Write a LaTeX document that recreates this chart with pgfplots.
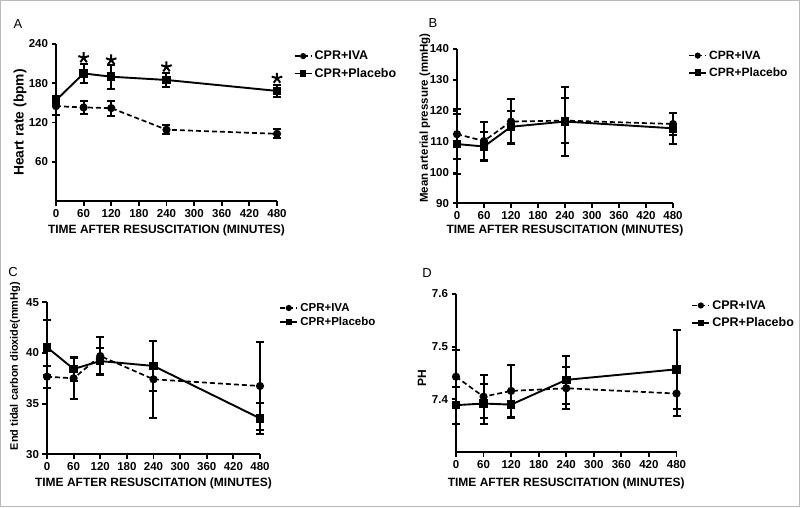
\documentclass[border=0pt]{standalone}
\usepackage{fontspec}
\setmainfont{Liberation Sans}
\usepackage{pgfplots}
\pgfplotsset{compat=1.18}

\pgfplotsset{
  panel/.style={
    scale only axis, axis lines=left, axis line style={-, line width=2pt},
    xmin=0, xmax=480, xtick={0,60,...,480},
    tick align=outside, major tick length=4.5pt, tick style={line width=1.8pt, black},
    ticklabel style={font=\bfseries\fontsize{11.5}{13}\selectfont},
    /pgf/number format/assume math mode=true,
    label style={font=\bfseries\fontsize{12}{14}\selectfont},
    clip=false,
    legend style={draw=none, fill=none, font=\bfseries\fontsize{12.5}{14}\selectfont,
      anchor=north west, row sep=3pt, inner sep=1pt},
    legend cell align=left,
    legend image post style={mark size=2.2pt},
  },
  iva/.style={black, line width=1.7pt, dash pattern=on 5pt off 3pt,
    mark=*, mark size=3.2pt, mark options={solid},
    error bars/.cd, y dir=both, y explicit,
    error bar style={solid, line width=2pt},
    error mark options={rotate=90, mark size=4pt, line width=2pt, solid}},
  plac/.style={black, line width=1.9pt, solid,
    mark=square*, mark size=3.3pt, mark options={solid},
    error bars/.cd, y dir=both, y explicit,
    error bar style={solid, line width=2pt},
    error mark options={rotate=90, mark size=4pt, line width=2pt, solid}},
}

\begin{document}
\begin{tikzpicture}[x=1pt, y=1pt]
\draw[gray!55, line width=1.2pt] (0.6,0.6) rectangle (799.4,506.4);

% panel letters
\node[font=\fontsize{13}{14}\selectfont] at (18,483) {A};
\node[font=\fontsize{13}{14}\selectfont] at (433,484) {B};
\node[font=\fontsize{13}{14}\selectfont] at (13,235) {C};
\node[font=\fontsize{13}{14}\selectfont] at (427,234) {D};

% A: heart rate
\begin{axis}[panel, at={(56pt,306pt)}, anchor=south west, width=221pt, height=157pt,
    ymin=0, ymax=240, ytick={60,120,180,240},
    ylabel={Heart rate (bpm)},
    ylabel style={at={(axis description cs:-0.163,0.5)}, anchor=center, font=\bfseries\fontsize{13.8}{15}\selectfont},
    xlabel={TIME AFTER RESUSCITATION (MINUTES)},
    xlabel style={at={(axis description cs:0.5,-0.185)}, anchor=center},
    legend style={at={(axis description cs:1.07,0.976)}}]
\addplot[iva] coordinates {
  (0,145) +- (0,14) (60,143) +- (0,9.5) (120,142) +- (0,11.5) (240,109) +- (0,7) (480,102.7) +- (0,7)
};
\addlegendentry{CPR+IVA}
\addplot[plac] coordinates {
  (0,154) +- (0,7) (60,195) +- (0,15) (120,190) +- (0,18.3) (240,185) +- (0,11.4) (480,168.3) +- (0,9)
};
\addlegendentry{CPR+Placebo}
\addplot[only marks, mark=star, mark size=5.5pt, line width=2pt, black, forget plot] coordinates {
  (60,219) (120,215.6) (240,205) (480,187.6)
};
\end{axis}

% B: mean arterial pressure
\begin{axis}[panel, at={(457pt,303.7pt)}, anchor=south west, width=216pt, height=154.3pt,
    ymin=90, ymax=140, ytick={90,100,...,140},
    ylabel={Mean arterial pressure (mmHg)},
    ylabel style={at={(axis description cs:-0.148,0.553)}, anchor=center, font=\bfseries\fontsize{11.5}{13}\selectfont},
    xlabel={TIME AFTER RESUSCITATION (MINUTES)},
    xlabel style={at={(axis description cs:0.5,-0.175)}, anchor=center},
    legend style={at={(axis description cs:1.065,1.01)}, font=\bfseries\fontsize{12}{14}\selectfont}]
\addplot[iva] coordinates {
  (0,112.4) +- (0,8) (60,110.2) +- (0,6.2) (120,116.5) +- (0,7.2) (240,116.8) +- (0,7.4) (480,115.7) +- (0,3.6)
};
\addlegendentry{CPR+IVA}
\addplot[plac] coordinates {
  (0,109.2) +- (0,9.8) (60,108.4) +- (0,4.7) (120,114.8) +- (0,5.2) (240,116.5) +- (0,11.3) (480,114.3) +- (0,5.1)
};
\addlegendentry{CPR+Placebo}
\end{axis}

% C: end tidal CO2
\begin{axis}[panel, at={(47pt,52.7pt)}, anchor=south west, width=213pt, height=152pt,
    ymin=30, ymax=45, ytick={30,35,40,45},
    ylabel={End tidal carbon dioxide(mmHg)},
    ylabel style={at={(axis description cs:-0.15,0.58)}, anchor=center, font=\bfseries\fontsize{10.9}{12}\selectfont},
    xlabel={TIME AFTER RESUSCITATION (MINUTES)},
    xlabel style={at={(axis description cs:0.5,-0.191)}, anchor=center},
    legend style={at={(axis description cs:1.085,1.015)}, row sep=0pt, font=\bfseries\fontsize{11.5}{13}\selectfont}]
\addplot[iva] coordinates {
  (0,37.66) +- (0,1.1) (60,37.5) +- (0,2.0) (120,39.7) +- (0,1.9) (240,37.4) +- (0,3.8) (480,36.74) +- (0,4.3)
};
\addlegendentry{CPR+IVA}
\addplot[plac] coordinates {
  (0,40.56) +- (0,2.7) (60,38.42) +- (0,1.2) (120,39.2) +- (0,1.25) (240,38.72) +- (0,2.5) (480,33.55) +- (0,1.5)
};
\addlegendentry{CPR+Placebo}
\end{axis}

% D: pH
\begin{axis}[panel, at={(456pt,55pt)}, anchor=south west, width=220.5pt, height=158pt,
    ymin=7.3, ymax=7.6, ytick={7.4,7.5,7.6},
    yticklabel style={/pgf/number format/.cd, fixed, fixed zerofill, precision=1},
    ylabel={PH},
    ylabel style={at={(axis description cs:-0.154,0.468)}, anchor=center},
    xlabel={TIME AFTER RESUSCITATION (MINUTES)},
    xlabel style={at={(axis description cs:0.5,-0.196)}, anchor=center},
    legend style={at={(axis description cs:1.062,0.98)}}]
\addplot[iva] coordinates {
  (0,7.443) +- (0,0.05) (60,7.405) +- (0,0.041) (120,7.416) +- (0,0.05) (240,7.421) +- (0,0.04) (480,7.411) +- (0,0.043)
};
\addlegendentry{CPR+IVA}
\addplot[plac] coordinates {
  (0,7.389) +- (0,0.035) (60,7.392) +- (0,0.038) (120,7.390) +- (0,0.025) (240,7.437) +- (0,0.045) (480,7.457) +- (0,0.075)
};
\addlegendentry{CPR+Placebo}
\end{axis}
\end{tikzpicture}
\end{document}
